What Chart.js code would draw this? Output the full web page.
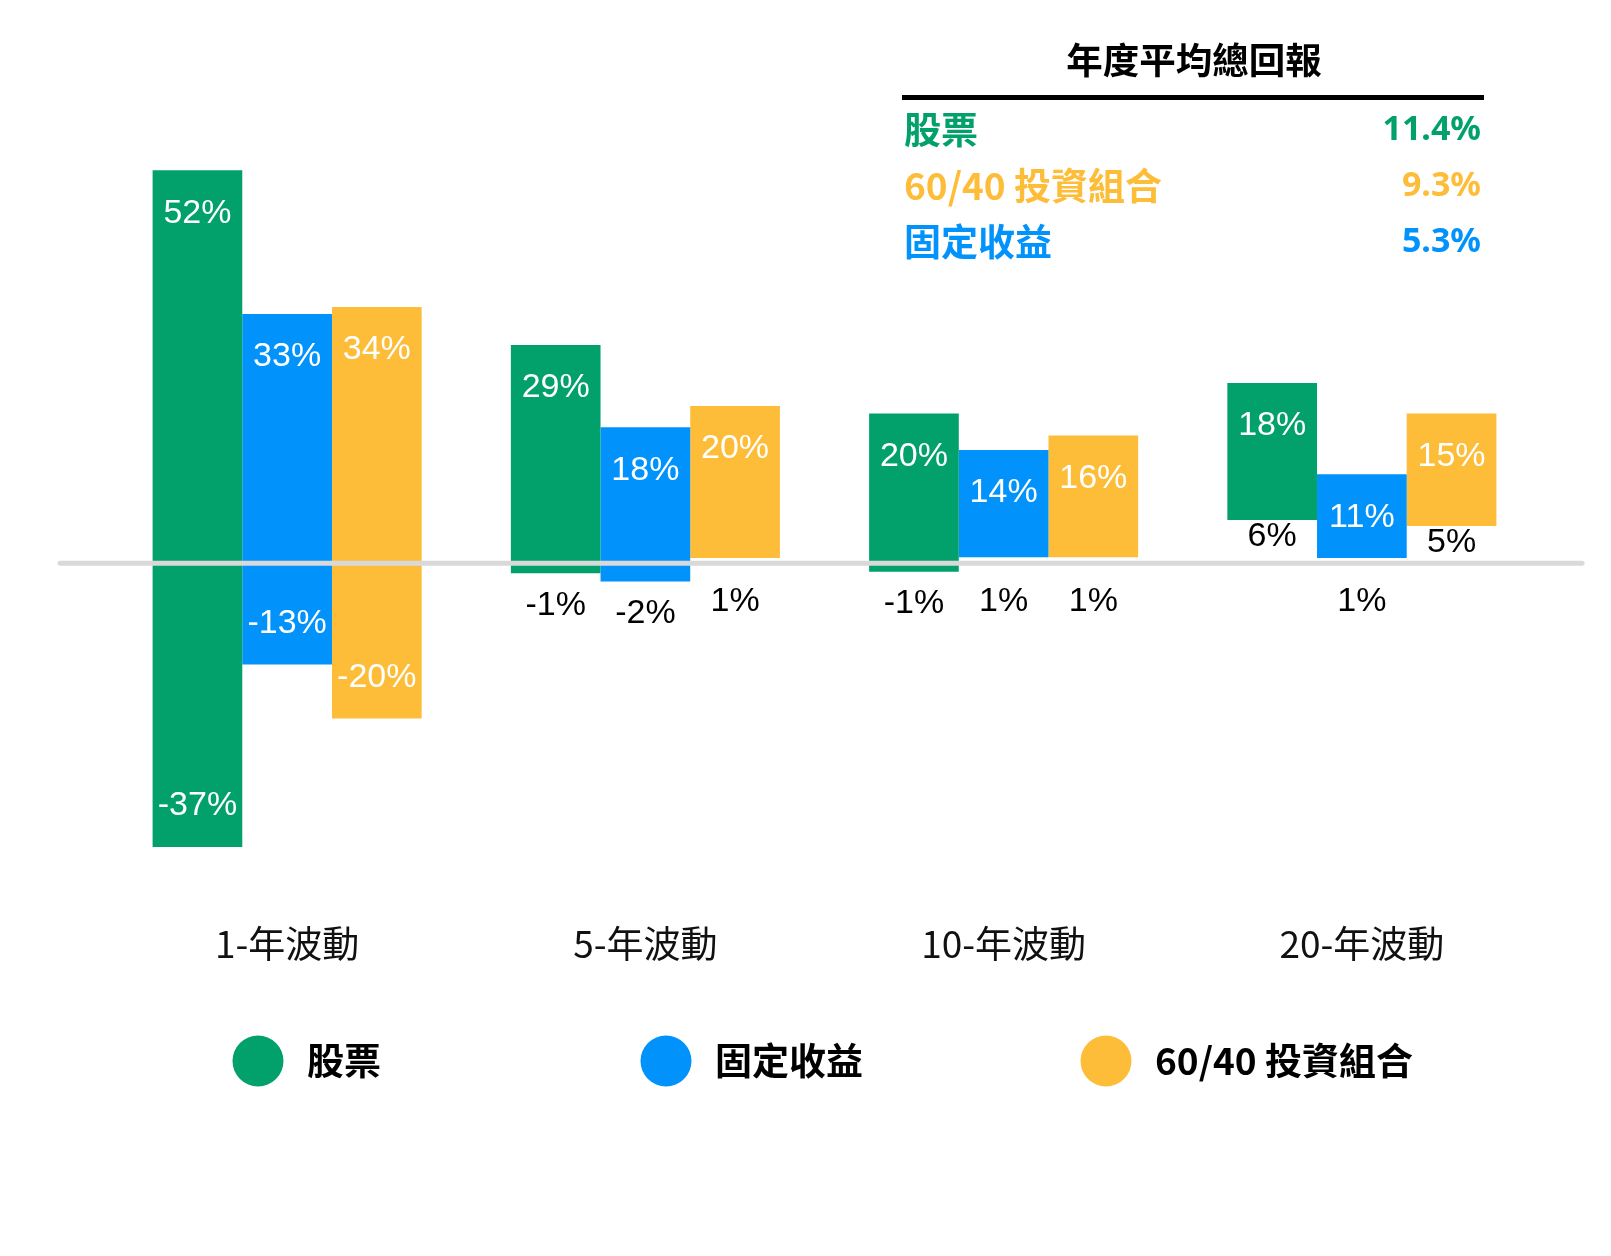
<!DOCTYPE html>
<html lang="zh-Hant">
<head>
<meta charset="utf-8">
<title>年度平均總回報</title>
<script src="https://cdn.jsdelivr.net/npm/chart.js@4.4.1/dist/chart.umd.min.js"></script>
<style>
  html, body { margin: 0; padding: 0; background: #fff; }
  #grafico { display: block; }
</style>
</head>
<body>
<canvas id="grafico" width="1611" height="1256"></canvas>
<script>
// categorias e séries
const categorias = ['1-年波動', '5-年波動', '10-年波動', '20-年波動'];
const nomesSeries = ['股票', '固定收益', '60/40 投資組合'];

// extensão das barras (mín / máx)
const acoesMin = [-37.3, -1.3, -1.1, 5.7];
const acoesMax = [51.7, 28.7, 19.7, 23.7];
const rendaFixaMin = [-13.3, -2.4, 0.8, 0.7];
const rendaFixaMax = [32.8, 17.9, 14.9, 11.7];
const mistoMin = [-20.4, 0.7, 0.8, 4.9];
const mistoMax = [33.7, 20.7, 16.8, 19.7];

// valores escritos nas barras
const acoesMinTexto = [-37, -1, -1, 6];
const acoesMaxTexto = [52, 29, 20, 18];
const rendaFixaMinTexto = [-13, -2, 1, 1];
const rendaFixaMaxTexto = [33, 18, 14, 11];
const mistoMinTexto = [-20, 1, 1, 5];
const mistoMaxTexto = [34, 20, 16, 15];

// quadro "年度平均總回報"
const resumoTitulo = '年度平均總回報';
const resumoNomes = ['股票', '60/40 投資組合', '固定收益'];
const resumoValores = [11.4, 9.3, 5.3];

const VERDE = '#02a16b';
const AZUL = '#0193fb';
const AMARELO = '#fdbd39';
const FONTE_CJK = '"Noto Sans CJK TC", "Noto Sans", sans-serif';
const FONTE_NUM = '"Liberation Sans", Arial, sans-serif';

function pares(min, max) {
    return min.map((v, i) => [v, max[i]]);
}

const textos = [
    { min: acoesMinTexto, max: acoesMaxTexto },
    { min: rendaFixaMinTexto, max: rendaFixaMaxTexto },
    { min: mistoMinTexto, max: mistoMaxTexto }
];

// linha do zero + rótulos dos valores
const pluginRotulos = {
    id: 'rotulos',
    afterDatasetsDraw(chart) {
        const ctx = chart.ctx;
        const y = chart.scales.y;
        const zero = y.getPixelForValue(0);

        ctx.save();
        ctx.strokeStyle = '#d9d9d9';
        ctx.lineWidth = 5;
        ctx.lineCap = 'round';
        ctx.beginPath();
        ctx.moveTo(60, zero);
        ctx.lineTo(1582, zero);
        ctx.stroke();

        ctx.font = '34px ' + FONTE_NUM;
        ctx.textAlign = 'center';
        ctx.textBaseline = 'middle';
        chart.data.datasets.forEach((ds, d) => {
            const meta = chart.getDatasetMeta(d);
            meta.data.forEach((bar, i) => {
                const topo = y.getPixelForValue(ds.data[i][1]);
                const base = y.getPixelForValue(ds.data[i][0]);
                ctx.fillStyle = '#fff';
                ctx.fillText(textos[d].max[i] + '%', bar.x, topo + 43);

                const txt = textos[d].min[i] + '%';
                if (base - zero > 60) {
                    ctx.fillStyle = '#fff';
                    ctx.fillText(txt, bar.x, base - 41);
                } else if (zero - base > 25) {
                    ctx.fillStyle = '#000';
                    ctx.fillText(txt, bar.x, base + 17);
                } else {
                    ctx.fillStyle = '#000';
                    ctx.fillText(txt, bar.x, Math.max(base + 32, zero + 38));
                }
            });
        });
        ctx.restore();
    },
    afterDraw(chart) {
        const ctx = chart.ctx;
        ctx.save();

        // quadro de resumo
        ctx.fillStyle = '#000';
        ctx.textBaseline = 'middle';
        ctx.textAlign = 'center';
        ctx.font = 'bold 36.5px ' + FONTE_CJK;
        ctx.fillText(resumoTitulo, 1194, 60);
        ctx.fillRect(902, 95, 582, 5);

        const cores = [VERDE, AMARELO, AZUL];
        const linhas = [130, 186, 242];
        resumoNomes.forEach((nome, i) => {
            ctx.fillStyle = cores[i];
            ctx.textAlign = 'left';
            ctx.font = 'bold 37px ' + FONTE_CJK;
            ctx.fillText(nome, 904, linhas[i]);
            ctx.textAlign = 'right';
            ctx.font = 'bold 34px "Noto Sans", sans-serif';
            ctx.fillText(resumoValores[i].toFixed(1) + '%', 1481, linhas[i]);
        });

        // legenda
        const centros = [258, 666, 1106];
        ctx.textAlign = 'left';
        ctx.font = 'bold 37px ' + FONTE_CJK;
        chart.data.datasets.forEach((ds, i) => {
            ctx.fillStyle = ds.backgroundColor;
            ctx.beginPath();
            ctx.arc(centros[i], 1061, 25.5, 0, Math.PI * 2);
            ctx.fill();
            ctx.fillStyle = '#000';
            ctx.fillText(ds.label, centros[i] + 49, 1061);
        });
        ctx.restore();
    }
};

const grafico = new Chart(document.getElementById('grafico'), {
    type: 'bar',
    data: {
        labels: categorias,
        datasets: [
            { label: nomesSeries[0], data: pares(acoesMin, acoesMax), backgroundColor: VERDE },
            { label: nomesSeries[1], data: pares(rendaFixaMin, rendaFixaMax), backgroundColor: AZUL },
            { label: nomesSeries[2], data: pares(mistoMin, mistoMax), backgroundColor: AMARELO }
        ]
    },
    options: {
        responsive: false,
        animation: false,
        devicePixelRatio: 1,
        layout: { padding: { left: 108, right: 70, top: 107, bottom: 236 } },
        datasets: { bar: { categoryPercentage: 0.751, barPercentage: 1, borderWidth: 0 } },
        plugins: {
            legend: { display: false },
            tooltip: { enabled: false }
        },
        scales: {
            x: {
                grid: { display: false, drawTicks: false },
                border: { display: false },
                ticks: {
                    padding: 54,
                    color: '#111',
                    maxRotation: 0,
                    font: { family: FONTE_CJK, size: 37 }
                }
            },
            y: { display: false, min: -40, max: 60 }
        }
    },
    plugins: [pluginRotulos]
});
</script>
</body>
</html>
